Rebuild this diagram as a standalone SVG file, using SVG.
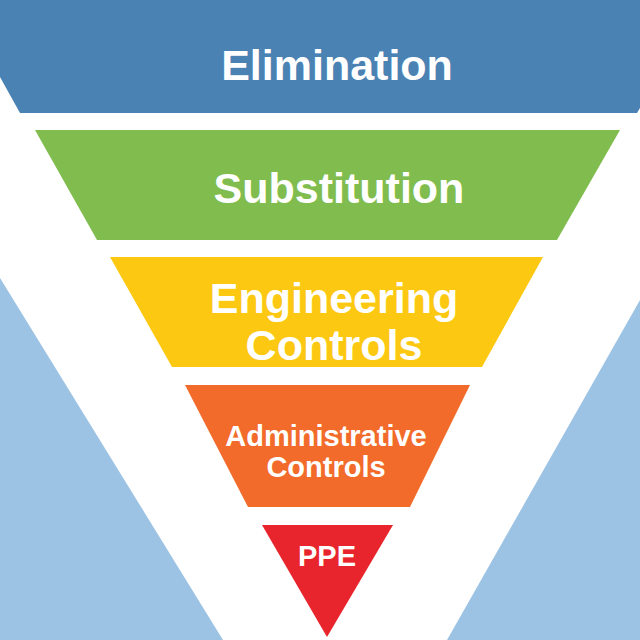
<svg xmlns="http://www.w3.org/2000/svg" width="640" height="640" viewBox="0 0 640 640">
<style>
.lbl{font-family:"Liberation Sans",Arial,sans-serif;font-weight:bold;fill:#ffffff;text-anchor:middle}
.big{font-size:43px}
.small{font-size:29px}
</style>
<rect x="0" y="0" width="640" height="640" fill="#ffffff"/>
<g id="background">
<polygon points="0,278 223,640 0,640" fill="#9dc3e4"/>
<polygon points="640,300 447,640 640,640" fill="#9dc3e4"/>
</g>
<g id="elimination">
<polygon points="0,0 640,0 640,108 637,113 20,113 0,77" fill="#4a82b4"/>
<text class="lbl big" x="337" y="80">Elimination</text>
</g>
<g id="substitution">
<polygon points="35,130 620,130 557,240 97,240" fill="#80bd4e"/>
<text class="lbl big" x="339" y="203">Substitution</text>
</g>
<g id="engineering">
<polygon points="110,257 543,257 482,367 172,367" fill="#fcc812"/>
<text class="lbl big" x="334" y="313">Engineering</text>
<text class="lbl big" x="334" y="360">Controls</text>
</g>
<g id="administrative">
<polygon points="185,385 470,385 410,507 248,507" fill="#f26b2a"/>
<text class="lbl small" x="326" y="446">Administrative</text>
<text class="lbl small" x="326" y="477">Controls</text>
</g>
<g id="ppe">
<polygon points="262,525 393,525 327,637" fill="#e8252c"/>
<text class="lbl small" x="327" y="566">PPE</text>
</g>
<g id="connectors"></g>
</svg>
